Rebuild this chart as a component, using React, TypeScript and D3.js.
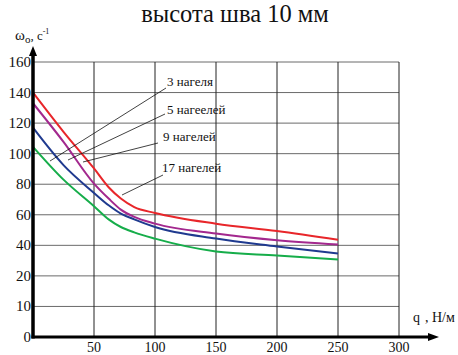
import React from 'react';
import { scaleLinear, line, curveMonotoneX } from 'd3';

// q, Н/м
const qValues = [0, 25, 50, 62, 72, 83, 100, 150, 200, 250];
const red3 = [140, 114.3, 90.3, 78, 70.6, 65, 61.2, 54.2, 49.4, 43.7];
const purple5 = [133, 107.7, 80.4, 70.6, 63.4, 58.6, 54.2, 47.7, 43.3, 40.5];
const blue9 = [117, 92.5, 74.3, 66.2, 60.8, 57, 52, 44.4, 39.3, 34.6];
const green17 = [104.5, 83, 65.6, 57, 52, 48.5, 44.4, 36, 33.4, 30.8];

const xTicks = [50, 100, 150, 200, 250, 300];
const yTicks = [-20, 0, 20, 40, 60, 80, 100, 120, 140, 160];
const yTickLabels = ['0', '10', '20', '40', '60', '80', '100', '120', '140', '160'];

const seriesColors = ['#e8262a', '#a3288e', '#1f3a8f', '#16ad4a'];

const App = () => {
    const W = 458, H = 355;
    const margin = { left: 33, top: 62, right: 399, bottom: 337 };

    const x = scaleLinear().domain([0, 300]).range([margin.left, margin.right]);
    const y = scaleLinear().domain([-20, 160]).range([margin.bottom, margin.top]);

    const lineFunc = line<number>().x((d, i) => x(qValues[i])).y(d => y(d)).curve(curveMonotoneX);
    const series = [red3, purple5, blue9, green17];

    // leader lines: label anchor -> point near curves
    const leaders = [
        { text: '3 нагеля', tx: 167, ty: 86, x1: 166, y1: 88, x2: 50, y2: 161 },
        { text: '5 нагеелей', tx: 167, ty: 114, x1: 165, y1: 114, x2: 68, y2: 160 },
        { text: '9 нагелей', tx: 163, ty: 141, x1: 158, y1: 143, x2: 83, y2: 162 },
        { text: '17 нагелей', tx: 162, ty: 172, x1: 163, y1: 175, x2: 122, y2: 195 },
    ];

    const font = "'Liberation Serif', 'Times New Roman', serif";

    return (
        <svg width={W} height={H} style={{ position: 'absolute', left: 0, top: 0, background: 'white', fontFamily: font }}>
            <text x={235} y={22} fontSize={24.5} textAnchor="middle" fill="#111" style={{ fontFamily: font }}>высота шва 10 мм</text>

            {/* grid */}
            <g>
                {yTicks.filter(t => t > -20).map(t => (
                    <line key={'h' + t} x1={margin.left} x2={margin.right} y1={y(t)} y2={y(t)} stroke="#6a6a6a" strokeWidth={1} />
                ))}
                {xTicks.map(t => (
                    <line key={'v' + t} x1={x(t)} x2={x(t)} y1={margin.top} y2={margin.bottom} stroke="#222" strokeWidth={1} />
                ))}
            </g>

            {/* curves */}
            <g>
                {series.map((s, i) => (
                    <path key={i} d={lineFunc(s) || ''} fill="none" stroke={seriesColors[i]} strokeWidth={2} strokeLinejoin="round" />
                ))}
            </g>

            {/* leader lines and labels */}
            <g>
                {leaders.map((l, i) => (
                    <g key={i}>
                        <line x1={l.x1} y1={l.y1} x2={l.x2} y2={l.y2} stroke="#111" strokeWidth={0.8} />
                        <text x={l.tx} y={l.ty} fontSize={13} fill="#111" style={{ fontFamily: font }}>{l.text}</text>
                    </g>
                ))}
            </g>

            {/* axes */}
            <line x1={margin.left} x2={margin.left} y1={margin.bottom + 1.5} y2={55} stroke="#000" strokeWidth={3.5} />
            <path d={`M${margin.left - 4},${56} L${margin.left},${46} L${margin.left + 4},${56} Z`} fill="#000" />
            <line x1={margin.left - 1.5} x2={430} y1={margin.bottom} y2={margin.bottom} stroke="#000" strokeWidth={3} />
            <path d={`M${428},${margin.bottom - 4} L${439},${margin.bottom} L${428},${margin.bottom + 4} Z`} fill="#000" />

            {/* tick labels */}
            <g fill="#111">
                {yTicks.map((t, i) => (
                    <text key={t} x={31} y={y(t) + 5} fontSize={15} textAnchor="end" style={{ fontFamily: font }}>{yTickLabels[i]}</text>
                ))}
                {xTicks.map(t => (
                    <text key={t} x={x(t)} y={352} fontSize={14} textAnchor="middle" style={{ fontFamily: font }}>{t}</text>
                ))}
            </g>

            {/* axis titles */}
            <text x={15} y={40} fontSize={15} fill="#111" style={{ fontFamily: font }}>ω<tspan fontSize={11} dy={3}>о</tspan><tspan fontSize={13} dy={-3}>, с</tspan><tspan fontSize={8} dy={-6}>-1</tspan></text>
            <text x={413} y={322} fontSize={14} fill="#111" style={{ fontFamily: font }}>q<tspan dx={5}>, Н/м</tspan></text>
        </svg>
    );
};

export default App;
